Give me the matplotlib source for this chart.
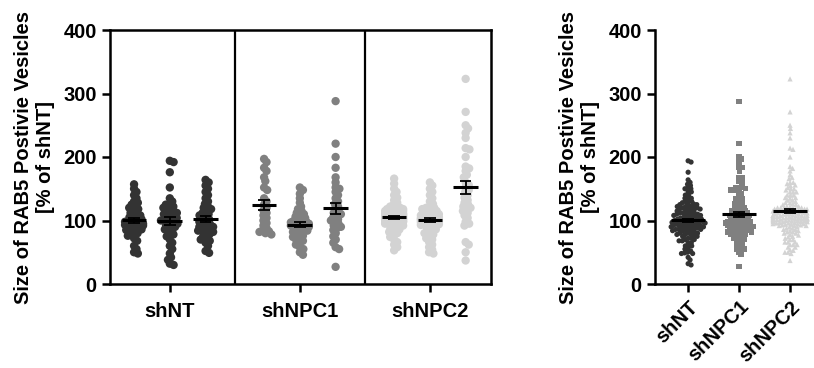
import numpy as np
import matplotlib
matplotlib.use("Agg")
import matplotlib.pyplot as plt

plt.rcParams['font.family'] = ['Liberation Sans', 'DejaVu Sans']
plt.rcParams['font.weight'] = 'bold'

groups = ["shNT", "shNPC1", "shNPC2"]
colors = ["#333333", "#808080", "#d3d3d3"]
markers = ["o", "s", "^"]
ylabel = "Size of RAB5 Postivie Vesicles\n[% of shNT]"

shNT = [
    [157, 150, 145, 140, 135, 130, 128, 125, 122, 120, 118, 115, 112, 110, 108,
     106, 105, 103, 102, 100, 99, 98, 97, 96, 95, 94, 93, 92, 90, 89, 88, 86,
     85, 83, 80, 78, 76, 72, 68, 60, 55, 50, 48],
    [194, 192, 176, 152, 135, 130, 125, 122, 120, 118, 115, 112, 110, 108, 105,
     104, 102, 100, 98, 97, 95, 93, 92, 90, 88, 86, 84, 80, 78, 75, 70, 65, 60,
     55, 48, 42, 38, 32, 30, 110, 115, 100, 125],
    [164, 160, 155, 150, 145, 140, 135, 130, 126, 122, 120, 118, 115, 112, 110,
     108, 105, 102, 100, 98, 96, 94, 92, 90, 88, 86, 84, 82, 80, 78, 75, 72, 70,
     68, 65, 60, 52, 49, 90, 85],
]
shNPC1 = [
    [197, 192, 183, 178, 168, 162, 152, 148, 135, 130, 125, 120, 116, 112, 108,
     104, 100, 96, 92, 88, 85, 83, 82, 80, 78],
    [152, 148, 142, 135, 128, 122, 118, 115, 112, 110, 108, 106, 104, 102, 100,
     99, 98, 97, 96, 95, 94, 93, 92, 91, 90, 88, 86, 85, 84, 82, 80, 78, 76, 74,
     72, 70, 68, 65, 62, 58, 55, 50, 46],
    [288, 221, 200, 183, 168, 160, 152, 150, 145, 140, 135, 130, 126, 122, 118,
     115, 112, 110, 108, 105, 102, 100, 98, 95, 92, 90, 88, 85, 80, 75, 70, 65,
     58, 55, 27],
]
shNPC2 = [
    [166, 158, 150, 145, 140, 136, 132, 128, 125, 122, 120, 118, 116, 115, 114,
     112, 111, 110, 109, 108, 107, 106, 105, 104, 103, 102, 101, 100, 99, 98, 97,
     96, 95, 94, 93, 92, 90, 88, 86, 84, 82, 80, 77, 74, 70, 66, 62, 58, 53, 112,
     108, 106, 104, 102, 110, 115, 118, 120, 100, 98],
    [160, 155, 150, 145, 140, 135, 130, 126, 122, 120, 118, 116, 114, 112, 110,
     108, 106, 105, 104, 103, 102, 101, 100, 99, 98, 97, 96, 95, 94, 93, 92, 90,
     88, 86, 84, 82, 80, 78, 75, 72, 70, 66, 62, 58, 54, 50, 48, 105, 110, 100,
     102, 108, 115, 120],
    [323, 271, 250, 245, 238, 230, 214, 212, 200, 185, 182, 178, 172, 168, 160,
     156, 152, 148, 145, 140, 136, 132, 128, 125, 122, 120, 118, 115, 112, 108,
     104, 98, 95, 92, 66, 62, 50, 37],
]
data = [shNT, shNPC1, shNPC2]
rep_offsets = [-0.275, 0.0, 0.275]


def swarm(values, d, ypx, maxw):
    # simple beeswarm, offsets in pixels, then clipped to maxw
    order = np.argsort(values)[::-1]
    placed = []
    xs = np.zeros(len(values))
    for i in order:
        y = values[i] * ypx
        cands = [0.0]
        for (px, py) in placed:
            dy = abs(py - y)
            if dy < d:
                dx = np.sqrt(d * d - dy * dy)
                cands += [px + dx, px - dx]
        cands.sort(key=abs)
        for c in cands:
            ok = all((c - px) ** 2 + (y - py) ** 2 >= d * d - 1e-6 for (px, py) in placed)
            if ok:
                break
        c = float(np.clip(c, -maxw, maxw))
        placed.append((c, y))
        xs[i] = c
    return xs


def mean_sem(ax, x, vals, half, cap, lw):
    vals = np.asarray(vals, float)
    m = vals.mean()
    sem = vals.std(ddof=1) / np.sqrt(len(vals))
    ax.hlines(m, x - half, x + half, color="black", lw=lw, zorder=5)
    ax.vlines(x, m - sem, m + sem, color="black", lw=1.3, zorder=5)
    ax.hlines([m - sem, m + sem], x - cap, x + cap, color="black", lw=1.3, zorder=5)


fig = plt.figure(figsize=(8.14, 3.68), dpi=100)
ypx = 254 / 400.0
fs = 14.5

# left panel: replicates
ax = fig.add_axes([110 / 814, 84 / 368, 381 / 814, 254 / 368])
xpx = 130.0
for g, reps in enumerate(data):
    for r, vals in enumerate(reps):
        x0 = g + rep_offsets[r]
        off = swarm(np.asarray(vals, float), 4.0, ypx, 9) / xpx
        ax.scatter(x0 + off, vals, s=36, color=colors[g], edgecolors="none", zorder=3)
        mean_sem(ax, x0, vals, 0.095, 0.045, 2.2)
for xb in [0.5, 1.5]:
    ax.axvline(xb, color="black", lw=1.6)
ax.set_xlim(-0.46, 2.47)
ax.set_ylim(0, 400)
ax.set_yticks([0, 100, 200, 300, 400])
ax.set_xticks(range(3))
ax.set_xticklabels(groups)
for s in ax.spines.values():
    s.set_linewidth(1.8)
ax.tick_params(axis="both", width=1.8, length=6, labelsize=fs)
ax.tick_params(axis="x", pad=7)
ax.set_ylabel(ylabel, fontsize=fs, fontweight="bold", labelpad=6)

# right panel: pooled
ax2 = fig.add_axes([655 / 814, 84 / 368, 159 / 814, 254 / 368])
xpx2 = 51.0
for g, reps in enumerate(data):
    vals = np.concatenate([np.asarray(v, float) for v in reps])
    off = swarm(vals, 3.2, ypx, 17) / xpx2
    ax2.scatter(g + off, vals, s=14, marker=markers[g], color=colors[g],
                edgecolors="none", zorder=3)
    mean_sem(ax2, g, vals, 0.33, 0.12, 2.2)
ax2.set_xlim(-0.65, 2.47)
ax2.set_ylim(0, 400)
ax2.set_yticks([0, 100, 200, 300, 400])
ax2.set_xticks(range(3))
ax2.set_xticklabels(groups, rotation=45, ha="right", rotation_mode="anchor")
ax2.spines["top"].set_visible(False)
ax2.spines["right"].set_visible(False)
for s in ax2.spines.values():
    s.set_linewidth(1.8)
ax2.tick_params(axis="both", width=1.8, length=6, labelsize=fs)
ax2.set_ylabel(ylabel, fontsize=fs, fontweight="bold", labelpad=6)

fig.savefig("out.png", dpi=100)
